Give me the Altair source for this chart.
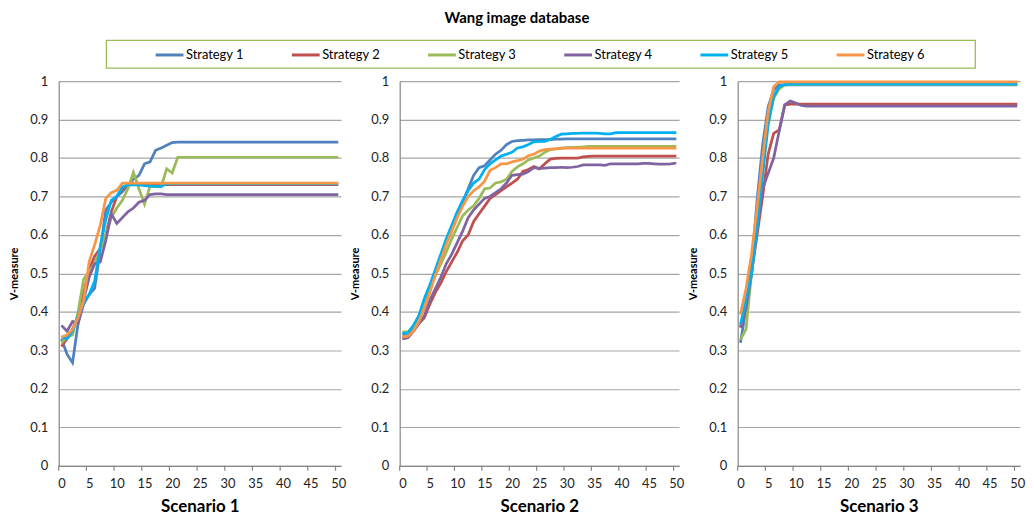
import altair as alt
import pandas as pd

strategies = ["Strategy 1", "Strategy 2", "Strategy 3", "Strategy 4", "Strategy 5", "Strategy 6"]
colors = ["#4F81BD", "#C0504D", "#9BBB59", "#8064A2", "#00B0F0", "#F79646"]
scenarios = ["Scenario 1", "Scenario 2", "Scenario 3"]
x_index = list(range(51))
x_labels = [0, 5, 10, 15, 20, 25, 30, 35, 40, 45, 50]
x_tick_marks = [-0.5, 4.5, 9.5, 14.5, 19.5, 24.5, 29.5, 34.5, 39.5, 44.5, 49.5]
y_labels = [0, 0.1, 0.2, 0.3, 0.4, 0.5, 0.6, 0.7, 0.8, 0.9, 1]

# ---- Scenario 1 ----
sc1_s1 = [0.33, 0.29, 0.268, 0.37, 0.42, 0.445, 0.462, 0.56, 0.665, 0.685, 0.70, 0.712, 0.73, 0.745, 0.755, 0.785, 0.79, 0.82, 0.826, 0.833,
          0.84, 0.841, 0.841, 0.841, 0.841, 0.841, 0.841, 0.841, 0.841, 0.841, 0.841, 0.841, 0.841, 0.841, 0.841, 0.841, 0.841, 0.841, 0.841, 0.841,
          0.841, 0.841, 0.841, 0.841, 0.841, 0.841, 0.841, 0.841, 0.841, 0.841, 0.841]
sc1_s2 = [0.31, 0.33, 0.355, 0.39, 0.45, 0.51, 0.545, 0.565, 0.60, 0.66, 0.70, 0.72, 0.73, 0.731, 0.731, 0.731, 0.731, 0.731, 0.731, 0.731,
          0.731, 0.731, 0.731, 0.731, 0.731, 0.731, 0.731, 0.731, 0.731, 0.731, 0.731, 0.731, 0.731, 0.731, 0.731, 0.731, 0.731, 0.731, 0.731, 0.731,
          0.731, 0.731, 0.731, 0.731, 0.731, 0.731, 0.731, 0.731, 0.731, 0.731, 0.731]
sc1_s3 = [0.32, 0.335, 0.34, 0.40, 0.485, 0.505, 0.525, 0.56, 0.60, 0.645, 0.67, 0.69, 0.72, 0.763, 0.72, 0.68, 0.727, 0.726, 0.725, 0.772,
          0.761, 0.802, 0.802, 0.802, 0.802, 0.802, 0.802, 0.802, 0.802, 0.802, 0.802, 0.802, 0.802, 0.802, 0.802, 0.802, 0.802, 0.802, 0.802, 0.802,
          0.802, 0.802, 0.802, 0.802, 0.802, 0.802, 0.802, 0.802, 0.802, 0.802, 0.802]
sc1_s4 = [0.365, 0.35, 0.375, 0.37, 0.43, 0.49, 0.525, 0.53, 0.585, 0.655, 0.63, 0.645, 0.66, 0.67, 0.685, 0.69, 0.705, 0.707, 0.707, 0.705,
          0.705, 0.705, 0.705, 0.705, 0.705, 0.705, 0.705, 0.705, 0.705, 0.705, 0.705, 0.705, 0.705, 0.705, 0.705, 0.705, 0.705, 0.705, 0.705, 0.705,
          0.705, 0.705, 0.705, 0.705, 0.705, 0.705, 0.705, 0.705, 0.705, 0.705, 0.705]
sc1_s5 = [0.335, 0.33, 0.35, 0.39, 0.425, 0.445, 0.48, 0.57, 0.64, 0.69, 0.70, 0.725, 0.73, 0.73, 0.73, 0.728, 0.727, 0.726, 0.726, 0.733,
          0.733, 0.733, 0.733, 0.733, 0.733, 0.733, 0.733, 0.733, 0.733, 0.733, 0.733, 0.733, 0.733, 0.733, 0.733, 0.733, 0.733, 0.733, 0.733, 0.733,
          0.733, 0.733, 0.733, 0.733, 0.733, 0.733, 0.733, 0.733, 0.733, 0.733, 0.733]
sc1_s6 = [0.335, 0.34, 0.355, 0.385, 0.43, 0.53, 0.575, 0.625, 0.695, 0.71, 0.716, 0.735, 0.735, 0.735, 0.735, 0.735, 0.735, 0.735, 0.735, 0.735,
          0.735, 0.735, 0.735, 0.735, 0.735, 0.735, 0.735, 0.735, 0.735, 0.735, 0.735, 0.735, 0.735, 0.735, 0.735, 0.735, 0.735, 0.735, 0.735, 0.735,
          0.735, 0.735, 0.735, 0.735, 0.735, 0.735, 0.735, 0.735, 0.735, 0.735, 0.735]

# ---- Scenario 2 ----
sc2_s1 = [0.34, 0.345, 0.36, 0.385, 0.43, 0.46, 0.50, 0.54, 0.58, 0.615, 0.65, 0.685, 0.72, 0.755, 0.775, 0.78, 0.795, 0.81, 0.82, 0.835,
          0.843, 0.845, 0.846, 0.847, 0.847, 0.848, 0.848, 0.848, 0.849, 0.849, 0.85, 0.85, 0.85, 0.85, 0.85, 0.85, 0.85, 0.85, 0.85, 0.85,
          0.85, 0.85, 0.85, 0.85, 0.85, 0.85, 0.85, 0.85, 0.85, 0.85, 0.85]
sc2_s2 = [0.332, 0.335, 0.35, 0.37, 0.385, 0.42, 0.45, 0.475, 0.505, 0.53, 0.555, 0.585, 0.60, 0.635, 0.655, 0.675, 0.695, 0.705, 0.715, 0.725,
          0.735, 0.745, 0.765, 0.77, 0.778, 0.772, 0.785, 0.797, 0.799, 0.80, 0.80, 0.80, 0.80, 0.803, 0.804, 0.805, 0.805, 0.805, 0.805, 0.805,
          0.805, 0.805, 0.805, 0.805, 0.805, 0.805, 0.805, 0.805, 0.805, 0.805, 0.805]
sc2_s3 = [0.348, 0.348, 0.36, 0.39, 0.425, 0.46, 0.495, 0.525, 0.555, 0.59, 0.62, 0.65, 0.665, 0.676, 0.695, 0.72, 0.722, 0.735, 0.738, 0.745,
          0.765, 0.777, 0.785, 0.795, 0.80, 0.805, 0.815, 0.822, 0.824, 0.826, 0.827, 0.828, 0.828, 0.829, 0.83, 0.83, 0.83, 0.83, 0.83, 0.83,
          0.83, 0.83, 0.83, 0.83, 0.83, 0.83, 0.83, 0.83, 0.83, 0.83, 0.83]
sc2_s4 = [0.33, 0.333, 0.35, 0.37, 0.39, 0.43, 0.46, 0.49, 0.525, 0.55, 0.58, 0.61, 0.645, 0.665, 0.68, 0.695, 0.70, 0.71, 0.72, 0.735,
          0.755, 0.757, 0.758, 0.765, 0.775, 0.773, 0.774, 0.775, 0.775, 0.776, 0.775, 0.776, 0.778, 0.782, 0.782, 0.782, 0.782, 0.781, 0.785, 0.785,
          0.785, 0.785, 0.785, 0.785, 0.786, 0.786, 0.785, 0.784, 0.784, 0.785, 0.787]
sc2_s5 = [0.345, 0.345, 0.365, 0.39, 0.435, 0.47, 0.51, 0.55, 0.59, 0.625, 0.66, 0.69, 0.715, 0.735, 0.745, 0.77, 0.785, 0.795, 0.805, 0.81,
          0.815, 0.826, 0.829, 0.835, 0.842, 0.843, 0.843, 0.848, 0.856, 0.862, 0.863, 0.864, 0.864, 0.865, 0.865, 0.865, 0.864, 0.863, 0.863, 0.866,
          0.866, 0.866, 0.866, 0.866, 0.866, 0.866, 0.866, 0.866, 0.866, 0.866, 0.866]
sc2_s6 = [0.335, 0.337, 0.35, 0.375, 0.41, 0.45, 0.495, 0.535, 0.575, 0.61, 0.645, 0.675, 0.70, 0.715, 0.725, 0.74, 0.768, 0.775, 0.785, 0.785,
          0.79, 0.793, 0.797, 0.806, 0.81, 0.818, 0.822, 0.823, 0.824, 0.825, 0.826, 0.826, 0.826, 0.826, 0.826, 0.826, 0.826, 0.826, 0.826, 0.826,
          0.826, 0.826, 0.826, 0.826, 0.826, 0.826, 0.826, 0.826, 0.826, 0.826, 0.826]

# ---- Scenario 3 ----
sc3_s1 = [0.32, 0.41, 0.52, 0.69, 0.834, 0.933, 0.977, 0.99, 0.99, 0.99, 0.99, 0.99, 0.99, 0.99, 0.99, 0.99, 0.99, 0.99, 0.99, 0.99,
          0.99, 0.99, 0.99, 0.99, 0.99, 0.99, 0.99, 0.99, 0.99, 0.99, 0.99, 0.99, 0.99, 0.99, 0.99, 0.99, 0.99, 0.99, 0.99, 0.99,
          0.99, 0.99, 0.99, 0.99, 0.99, 0.99, 0.99, 0.99, 0.99, 0.99, 0.99]
sc3_s2 = [0.359, 0.41, 0.50, 0.60, 0.70, 0.81, 0.864, 0.873, 0.938, 0.94, 0.94, 0.94, 0.94, 0.94, 0.94, 0.94, 0.94, 0.94, 0.94, 0.94,
          0.94, 0.94, 0.94, 0.94, 0.94, 0.94, 0.94, 0.94, 0.94, 0.94, 0.94, 0.94, 0.94, 0.94, 0.94, 0.94, 0.94, 0.94, 0.94, 0.94,
          0.94, 0.94, 0.94, 0.94, 0.94, 0.94, 0.94, 0.94, 0.94, 0.94, 0.94]
sc3_s3 = [0.328, 0.355, 0.50, 0.64, 0.78, 0.895, 0.955, 0.98, 0.99, 0.991, 0.991, 0.991, 0.991, 0.991, 0.991, 0.991, 0.991, 0.991, 0.991, 0.991,
          0.991, 0.991, 0.991, 0.991, 0.991, 0.991, 0.991, 0.991, 0.991, 0.991, 0.991, 0.991, 0.991, 0.991, 0.991, 0.991, 0.991, 0.991, 0.991, 0.991,
          0.991, 0.991, 0.991, 0.991, 0.991, 0.991, 0.991, 0.991, 0.991, 0.991, 0.991]
sc3_s4 = [0.36, 0.41, 0.50, 0.62, 0.72, 0.76, 0.80, 0.87, 0.938, 0.948, 0.943, 0.937, 0.935, 0.935, 0.935, 0.935, 0.935, 0.935, 0.935, 0.935,
          0.935, 0.935, 0.935, 0.935, 0.935, 0.935, 0.935, 0.935, 0.935, 0.935, 0.935, 0.935, 0.935, 0.935, 0.935, 0.935, 0.935, 0.935, 0.935, 0.935,
          0.935, 0.935, 0.935, 0.935, 0.935, 0.935, 0.935, 0.935, 0.935, 0.935, 0.935]
sc3_s5 = [0.367, 0.43, 0.50, 0.62, 0.756, 0.886, 0.96, 0.985, 0.991, 0.992, 0.992, 0.992, 0.992, 0.992, 0.992, 0.992, 0.992, 0.992, 0.992, 0.992,
          0.992, 0.992, 0.992, 0.992, 0.992, 0.992, 0.992, 0.992, 0.992, 0.992, 0.992, 0.992, 0.992, 0.992, 0.992, 0.992, 0.992, 0.992, 0.992, 0.992,
          0.992, 0.992, 0.992, 0.992, 0.992, 0.992, 0.992, 0.992, 0.992, 0.992, 0.992]
sc3_s6 = [0.393, 0.46, 0.55, 0.67, 0.80, 0.92, 0.985, 0.998, 0.998, 0.998, 0.998, 0.998, 0.998, 0.998, 0.998, 0.998, 0.998, 0.998, 0.998, 0.998,
          0.998, 0.998, 0.998, 0.998, 0.998, 0.998, 0.998, 0.998, 0.998, 0.998, 0.998, 0.998, 0.998, 0.998, 0.998, 0.998, 0.998, 0.998, 0.998, 0.998,
          0.998, 0.998, 0.998, 0.998, 0.998, 0.998, 0.998, 0.998, 0.998, 0.998, 0.998]

panel_series = [
    [sc1_s1, sc1_s2, sc1_s3, sc1_s4, sc1_s5, sc1_s6],
    [sc2_s1, sc2_s2, sc2_s3, sc2_s4, sc2_s5, sc2_s6],
    [sc3_s1, sc3_s2, sc3_s3, sc3_s4, sc3_s5, sc3_s6],
]

FONT = "Lato"
AXIS_GRAY = "#868686"
GRID_GRAY = "#A6A6A6"
widths = [284, 281, 284]
H = 387

color_scale = alt.Scale(domain=strategies, range=colors)
legend = alt.Legend(
    title=None, orient="none", direction="horizontal", legendX=96, legendY=-42,
    symbolType="stroke", symbolSize=784, symbolStrokeWidth=3, labelFontSize=13,
    labelFont=FONT, labelColor="#000000", labelOffset=1, columnPadding=41,
)

tick_df = pd.DataFrame({"t": x_tick_marks})


def make_panel(k):
    rows = []
    for s_name, vals in zip(strategies, panel_series[k]):
        for i, v in zip(x_index, vals):
            rows.append({"x": i, "v": v, "strategy": s_name})
    df = pd.DataFrame(rows)
    x_scale = alt.Scale(domain=[-0.5, 50.5], nice=False, zero=False)
    x_axis = alt.Axis(values=x_labels, title=scenarios[k], grid=False, ticks=False,
                      labelOverlap=False, labelFlush=False,
                      domainColor=AXIS_GRAY, domainWidth=1.2, labelFontSize=13, labelFont=FONT,
                      labelColor="#222222", labelPadding=12, titleFont=FONT, titleFontSize=17,
                      titleFontWeight="bold", titleColor="#000000", titlePadding=8)
    lines = alt.Chart(df).mark_line(strokeWidth=2.75).encode(
        x=alt.X("x:Q", scale=x_scale, axis=x_axis),
        y=alt.Y("v:Q", scale=alt.Scale(domain=[0, 1], nice=False, zero=False),
                axis=alt.Axis(values=y_labels, format="~g", title="V-measure", grid=True, ticks=False,
                              labelOverlap=False, labelFlush=False,
                              gridColor=GRID_GRAY, gridWidth=1.2, domainColor=AXIS_GRAY, domainWidth=1.2,
                              labelFontSize=13, labelFont=FONT, labelColor="#222222", labelPadding=11,
                              titleFont=FONT, titleFontSize=11, titleFontWeight="bold", titleColor="#000000",
                              titleX=-44, titleY=H / 2, titleAngle=270, titleBaseline="middle", titleAlign="center")),
        color=alt.Color("strategy:N", scale=color_scale, legend=legend),
        order=alt.Order("x:Q"),
    )
    marks = alt.Chart(tick_df).mark_rule(color=AXIS_GRAY, strokeWidth=1.2).encode(
        x=alt.X("t:Q", scale=x_scale, axis=x_axis), y=alt.value(H), y2=alt.value(H + 5)
    )
    layers = [lines, marks]
    if k == 0:
        box = alt.Chart(pd.DataFrame({"a": [0]})).mark_rect(
            fill="#FFFFFF", fillOpacity=0, stroke="#9BBB59", strokeWidth=1.3
        ).encode(x=alt.value(48), x2=alt.value(922), y=alt.value(-41), y2=alt.value(-13))
        layers = [box] + layers
    return alt.layer(*layers).properties(width=widths[k], height=H)


chart = alt.hconcat(make_panel(0), make_panel(1), make_panel(2), spacing=59, bounds="flush").properties(
    title=alt.TitleParams("Wang image database", font=FONT, fontSize=15, fontWeight="bold",
                          color="#000000", anchor="middle", offset=13),
    padding={"left": 0, "top": 1, "right": 0, "bottom": 0},
).configure_view(stroke="transparent")

chart.save("out.html", embed_options={"renderer": "svg", "actions": False})
